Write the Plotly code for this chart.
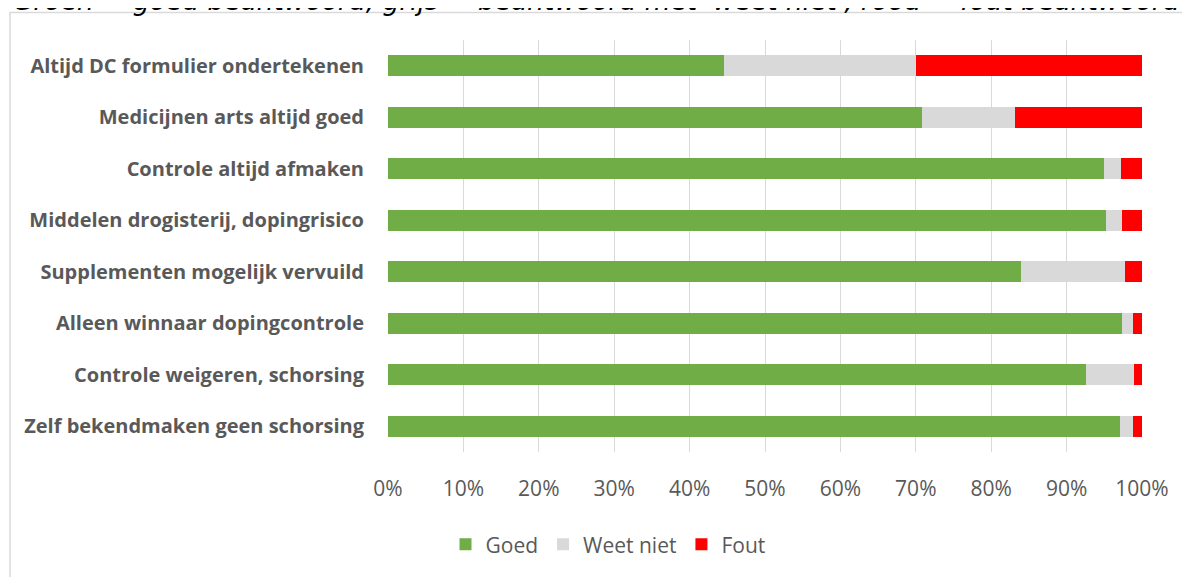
import plotly.graph_objects as go

categories = [
    "Altijd DC formulier ondertekenen",
    "Medicijnen arts altijd goed",
    "Controle altijd afmaken",
    "Middelen drogisterij, dopingrisico",
    "Supplementen mogelijk vervuild",
    "Alleen winnaar dopingcontrole",
    "Controle weigeren, schorsing",
    "Zelf bekendmaken geen schorsing",
]
goed = [44.6, 70.8, 95.0, 95.2, 83.9, 97.3, 92.6, 97.1]
weet_niet = [25.4, 12.3, 2.2, 2.2, 13.9, 1.5, 6.3, 1.7]
fout = [30.0, 16.9, 2.8, 2.6, 2.2, 1.2, 1.1, 1.2]
tick_vals = [0, 10, 20, 30, 40, 50, 60, 70, 80, 90, 100]
tick_text = ["0%", "10%", "20%", "30%", "40%", "50%", "60%", "70%", "80%", "90%", "100%"]

series = [("Goed", goed, "#70AD47"), ("Weet niet", weet_niet, "#D9D9D9"), ("Fout", fout, "#FF0000")]

# page body has an 8px margin; work in reference screen pixels and subtract it
OFF = 8
W, H = 1190 - OFF, 577 - OFF
L = 388 - OFF
T = 40 - OFF
PB = 458 - OFF
pw = 754
R = W - L - pw
B = H - PB
ph = PB - T

def px_x(p):
    return (p - OFF - L) / pw

def px_y(p):
    return (PB - (p - OFF)) / ph

fig = go.Figure()
for name, vals, col in series:
    fig.add_trace(go.Bar(
        y=categories, x=vals, name=name, orientation="h",
        marker=dict(color=col, line=dict(width=0)),
    ))

fig.add_shape(type="rect", xref="paper", yref="paper",
              x0=px_x(10), x1=px_x(1220), y0=px_y(600), y1=px_y(12),
              line=dict(color="#D9D9D9", width=1.5), fillcolor="rgba(0,0,0,0)", layer="below")

fig.add_annotation(
    text="<i>Groen = goed beantwoord, grijs = beantwoord met 'weet niet', rood = fout beantwoord</i>",
    xref="paper", yref="paper", x=px_x(12), y=px_y(17), xanchor="left", yanchor="bottom",
    showarrow=False, borderpad=0, font=dict(family="DejaVu Sans", size=26.5, color="#000000"),
)

fig.update_layout(
    width=W, height=H,
    margin=dict(l=L, r=R, t=T, b=B),
    barmode="stack", bargap=0.59,
    paper_bgcolor="white", plot_bgcolor="white",
    showlegend=True,
    legend=dict(orientation="h", x=px_x(608), y=px_y(552), xanchor="center", yanchor="middle",
                font=dict(family="Open Sans", size=21, color="#595959"), traceorder="normal",
                itemwidth=30),
    xaxis=dict(range=[0, 100], tickvals=tick_vals, ticktext=tick_text,
               showgrid=True, gridcolor="#D9D9D9", gridwidth=1.2, zeroline=False,
               showline=False, tickfont=dict(family="Open Sans", size=21, color="#595959"),
               ticklabelstandoff=22),
    yaxis=dict(autorange="reversed", showgrid=False, showline=False, zeroline=False,
               tickfont=dict(family="Open Sans", size=20, color="#595959", weight="bold"),
               ticklabelstandoff=23),
)

fig.write_html("out.html")
